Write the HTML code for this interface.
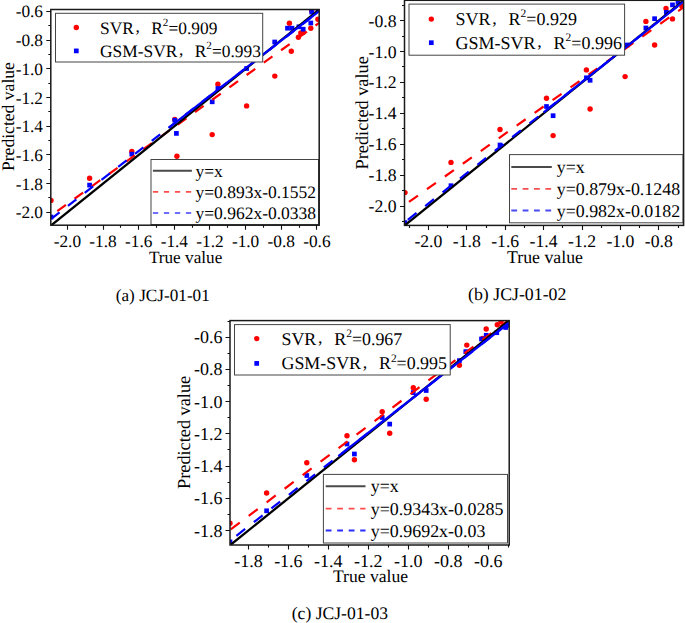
<!DOCTYPE html><html><head><meta charset="utf-8"><style>html,body{margin:0;padding:0;background:#fff;}svg{display:block;}</style></head><body>
<svg width="685" height="623" viewBox="0 0 685 623" font-family='"Liberation Serif", serif' fill="#000" text-rendering="geometricPrecision">
<rect width="685" height="623" fill="#fff"/>
<clipPath id="ca"><rect x="50.8" y="9.5" width="268.4" height="215.7"/></clipPath>
<g clip-path="url(#ca)">
<circle cx="51" cy="200.4" r="2.7" fill="#f00"/>
<circle cx="89.6" cy="178.2" r="2.7" fill="#f00"/>
<circle cx="131.8" cy="151.5" r="2.7" fill="#f00"/>
<circle cx="174.8" cy="119.4" r="2.7" fill="#f00"/>
<circle cx="176.9" cy="156.3" r="2.7" fill="#f00"/>
<circle cx="212.2" cy="134.6" r="2.7" fill="#f00"/>
<circle cx="217.9" cy="84.3" r="2.7" fill="#f00"/>
<circle cx="246.6" cy="105.9" r="2.7" fill="#f00"/>
<circle cx="274.8" cy="76.1" r="2.7" fill="#f00"/>
<circle cx="289.4" cy="23.2" r="2.7" fill="#f00"/>
<circle cx="291.3" cy="51.3" r="2.7" fill="#f00"/>
<circle cx="298.4" cy="37.3" r="2.7" fill="#f00"/>
<circle cx="300.8" cy="33" r="2.7" fill="#f00"/>
<circle cx="303.2" cy="32.5" r="2.7" fill="#f00"/>
<circle cx="310.8" cy="28.2" r="2.7" fill="#f00"/>
<circle cx="317.9" cy="19.2" r="2.7" fill="#f00"/>
<circle cx="311.7" cy="10.7" r="2.7" fill="#f00"/>
<rect x="48.65" y="214.65" width="4.7" height="4.7" fill="#00f"/>
<rect x="87.25" y="182.75" width="4.7" height="4.7" fill="#00f"/>
<rect x="129.45" y="151.85" width="4.7" height="4.7" fill="#00f"/>
<rect x="172.45" y="117.85" width="4.7" height="4.7" fill="#00f"/>
<rect x="174.05" y="131.05" width="4.7" height="4.7" fill="#00f"/>
<rect x="209.85" y="99.45" width="4.7" height="4.7" fill="#00f"/>
<rect x="215.55" y="86.15" width="4.7" height="4.7" fill="#00f"/>
<rect x="244.25" y="66.15" width="4.7" height="4.7" fill="#00f"/>
<rect x="272.35" y="39.65" width="4.7" height="4.7" fill="#00f"/>
<rect x="285.15" y="25.85" width="4.7" height="4.7" fill="#00f"/>
<rect x="289.65" y="25.85" width="4.7" height="4.7" fill="#00f"/>
<rect x="296.55" y="24.45" width="4.7" height="4.7" fill="#00f"/>
<rect x="300.85" y="26.85" width="4.7" height="4.7" fill="#00f"/>
<rect x="308.45" y="20.65" width="4.7" height="4.7" fill="#00f"/>
<rect x="309.35" y="9.75" width="4.7" height="4.7" fill="#00f"/>
<rect x="315.55" y="7.85" width="4.7" height="4.7" fill="#00f"/>
<line x1="50.8" y1="215.8" x2="319.2" y2="22.84" stroke="#f00" stroke-width="2.2" stroke-dasharray="10.6 10.6" stroke-dashoffset="13.2"/>
<line x1="50.8" y1="225.66" x2="319.2" y2="9.59" stroke="#000" stroke-width="2.3"/>
<line x1="50.8" y1="219.1" x2="319.2" y2="11.24" stroke="#00f" stroke-width="2.2" stroke-dasharray="10.6 10.6" stroke-dashoffset="20.7"/>
<line x1="168.97" y1="127.58" x2="319.2" y2="11.24" stroke="#00f" stroke-width="2.2"/>
</g>
<rect x="55.5" y="13.3" width="207.2" height="48.7" fill="#fff" stroke="#444" stroke-width="1"/>
<circle cx="76.3" cy="27.5" r="2.7" fill="#f00"/>
<rect x="73.95" y="48.55" width="4.7" height="4.7" fill="#00f"/>
<text x="100" y="33.5" font-size="17.4">SVR<tspan dx="1.74" dy="-1.6">,</tspan><tspan dx="11.31" dy="1.6">R</tspan><tspan font-size="11.14" dy="-7.48">2</tspan><tspan dy="7.48">=0.909</tspan></text>
<text x="100" y="56.9" font-size="17.4">GSM-SVR<tspan dx="1.74" dy="-1.6">,</tspan><tspan dx="11.31" dy="1.6">R</tspan><tspan font-size="11.14" dy="-7.48">2</tspan><tspan dy="7.48">=0.993</tspan></text>
<rect x="151" y="159.5" width="167.5" height="65" fill="#fff" stroke="#444" stroke-width="1"/>
<line x1="152.9" y1="170.8" x2="191.9" y2="170.8" stroke="#4a4a4a" stroke-width="1.9"/>
<line x1="152.9" y1="191.8" x2="191.9" y2="191.8" stroke="#ff4d4d" stroke-width="1.8" stroke-dasharray="5.3 5.7"/>
<line x1="152.9" y1="213" x2="191.9" y2="213" stroke="#6f6fff" stroke-width="1.8" stroke-dasharray="5.3 5.7"/>
<text x="195.4" y="176.8" font-size="17.5">y=x</text>
<text x="195.4" y="197.8" font-size="17.5">y=0.893x-0.1552</text>
<text x="195.4" y="219" font-size="17.5">y=0.962x-0.0338</text>
<rect x="50.8" y="9.5" width="268.4" height="215.7" fill="none" stroke="#1a1a1a" stroke-width="1.5"/>
<path d="M67.5 225.2v4.5 M103.5 225.2v4.5 M138.5 225.2v4.5 M174.5 225.2v4.5 M209.5 225.2v4.5 M245.5 225.2v4.5 M281.5 225.2v4.5 M316.5 225.2v4.5 M85.5 225.2v2.5 M120.5 225.2v2.5 M156.5 225.2v2.5 M192.5 225.2v2.5 M227.5 225.2v2.5 M263.5 225.2v2.5 M299.5 225.2v2.5 M50.8 212.5h-4.5 M50.8 183.5h-4.5 M50.8 154.5h-4.5 M50.8 126.5h-4.5 M50.8 97.5h-4.5 M50.8 68.5h-4.5 M50.8 40.5h-4.5 M50.8 11.5h-4.5 M50.8 197.5h-2.5 M50.8 169.5h-2.5 M50.8 140.5h-2.5 M50.8 111.5h-2.5 M50.8 83.5h-2.5 M50.8 54.5h-2.5 M50.8 25.5h-2.5" stroke="#111" stroke-width="1.1" fill="none"/>
<text x="67.4" y="246.5" font-size="17.3" text-anchor="middle">-2.0</text>
<text x="103.04" y="246.5" font-size="17.3" text-anchor="middle">-1.8</text>
<text x="138.68" y="246.5" font-size="17.3" text-anchor="middle">-1.6</text>
<text x="174.32" y="246.5" font-size="17.3" text-anchor="middle">-1.4</text>
<text x="209.96" y="246.5" font-size="17.3" text-anchor="middle">-1.2</text>
<text x="245.6" y="246.5" font-size="17.3" text-anchor="middle">-1.0</text>
<text x="281.24" y="246.5" font-size="17.3" text-anchor="middle">-0.8</text>
<text x="316.88" y="246.5" font-size="17.3" text-anchor="middle">-0.6</text>
<text x="43" y="218.3" font-size="17.3" text-anchor="end">-2.0</text>
<text x="43" y="189.61" font-size="17.3" text-anchor="end">-1.8</text>
<text x="43" y="160.92" font-size="17.3" text-anchor="end">-1.6</text>
<text x="43" y="132.22" font-size="17.3" text-anchor="end">-1.4</text>
<text x="43" y="103.53" font-size="17.3" text-anchor="end">-1.2</text>
<text x="43" y="74.84" font-size="17.3" text-anchor="end">-1.0</text>
<text x="43" y="46.15" font-size="17.3" text-anchor="end">-0.8</text>
<text x="43" y="17.46" font-size="17.3" text-anchor="end">-0.6</text>
<text x="185.6" y="263.2" font-size="17.2" text-anchor="middle">True value</text>
<text transform="translate(13.8 116.6) rotate(-90)" font-size="17.6" text-anchor="middle">Predicted value</text>
<text x="162.8" y="300.5" font-size="17.2" text-anchor="middle">(a) JCJ-01-01</text>
<clipPath id="cb"><rect x="404.5" y="0.3" width="279.1" height="225.1"/></clipPath>
<g clip-path="url(#cb)">
<circle cx="405" cy="192.6" r="2.7" fill="#f00"/>
<circle cx="451" cy="162.4" r="2.7" fill="#f00"/>
<circle cx="500" cy="129.5" r="2.7" fill="#f00"/>
<circle cx="546.5" cy="98.2" r="2.7" fill="#f00"/>
<circle cx="553.1" cy="135.6" r="2.7" fill="#f00"/>
<circle cx="586.4" cy="69.9" r="2.7" fill="#f00"/>
<circle cx="590.1" cy="109" r="2.7" fill="#f00"/>
<circle cx="625.1" cy="76.6" r="2.7" fill="#f00"/>
<circle cx="645.9" cy="21.4" r="2.7" fill="#f00"/>
<circle cx="654.6" cy="45" r="2.7" fill="#f00"/>
<circle cx="666" cy="8.4" r="2.7" fill="#f00"/>
<circle cx="672.5" cy="18.9" r="2.7" fill="#f00"/>
<circle cx="682" cy="6.2" r="2.7" fill="#f00"/>
<rect x="402.65" y="220.25" width="4.7" height="4.7" fill="#00f"/>
<rect x="448.65" y="183.35" width="4.7" height="4.7" fill="#00f"/>
<rect x="497.65" y="142.65" width="4.7" height="4.7" fill="#00f"/>
<rect x="544.15" y="104.15" width="4.7" height="4.7" fill="#00f"/>
<rect x="550.75" y="113.35" width="4.7" height="4.7" fill="#00f"/>
<rect x="584.05" y="75.45" width="4.7" height="4.7" fill="#00f"/>
<rect x="587.75" y="77.95" width="4.7" height="4.7" fill="#00f"/>
<rect x="624.85" y="42.65" width="4.7" height="4.7" fill="#00f"/>
<rect x="643.55" y="25.65" width="4.7" height="4.7" fill="#00f"/>
<rect x="652.25" y="16.35" width="4.7" height="4.7" fill="#00f"/>
<rect x="663.95" y="9.95" width="4.7" height="4.7" fill="#00f"/>
<rect x="670.15" y="2.55" width="4.7" height="4.7" fill="#00f"/>
<rect x="675.65" y="-0.05" width="4.7" height="4.7" fill="#00f"/>
<line x1="404.5" y1="205.1" x2="683.6" y2="7.3" stroke="#f00" stroke-width="2.2" stroke-dasharray="11 11" stroke-dashoffset="16.5"/>
<line x1="404.5" y1="225.57" x2="683.6" y2="0.54" stroke="#000" stroke-width="2.3"/>
<line x1="404.5" y1="222.47" x2="683.6" y2="1.49" stroke="#00f" stroke-width="2.2" stroke-dasharray="11.1 11.1" stroke-dashoffset="18"/>
<line x1="543.6" y1="112.34" x2="683.6" y2="1.49" stroke="#00f" stroke-width="2.2"/>
</g>
<rect x="409" y="4.1" width="215.6" height="51.1" fill="#fff" stroke="#444" stroke-width="1"/>
<circle cx="431.3" cy="19.1" r="2.7" fill="#f00"/>
<rect x="428.95" y="40.35" width="4.7" height="4.7" fill="#00f"/>
<text x="455.5" y="25.1" font-size="18.0">SVR<tspan dx="1.8" dy="-1.6">,</tspan><tspan dx="11.7" dy="1.6">R</tspan><tspan font-size="11.52" dy="-7.74">2</tspan><tspan dy="7.74">=0.929</tspan></text>
<text x="455.5" y="48.7" font-size="18.0">GSM-SVR<tspan dx="1.8" dy="-1.6">,</tspan><tspan dx="11.7" dy="1.6">R</tspan><tspan font-size="11.52" dy="-7.74">2</tspan><tspan dy="7.74">=0.996</tspan></text>
<rect x="509.5" y="154.6" width="173.5" height="68.2" fill="#fff" stroke="#444" stroke-width="1"/>
<line x1="511.3" y1="167" x2="551.8" y2="167" stroke="#4a4a4a" stroke-width="1.9"/>
<line x1="511.3" y1="188.8" x2="551.8" y2="188.8" stroke="#f25050" stroke-width="1.8" stroke-dasharray="5.8 5.55"/>
<line x1="511.3" y1="210.5" x2="551.8" y2="210.5" stroke="#4a4af2" stroke-width="1.8" stroke-dasharray="5.8 5.55"/>
<text x="556.7" y="173" font-size="17.9">y=x</text>
<text x="556.7" y="194.8" font-size="17.9">y=0.879x-0.1248</text>
<text x="556.7" y="216.5" font-size="17.9">y=0.982x-0.0182</text>
<rect x="404.5" y="0.3" width="279.1" height="225.1" fill="none" stroke="#1a1a1a" stroke-width="1.5"/>
<path d="M428.5 225.4v4.5 M466.5 225.4v4.5 M505.5 225.4v4.5 M543.5 225.4v4.5 M582.5 225.4v4.5 M620.5 225.4v4.5 M658.5 225.4v4.5 M409.5 225.4v2.5 M447.5 225.4v2.5 M486.5 225.4v2.5 M524.5 225.4v2.5 M562.5 225.4v2.5 M601.5 225.4v2.5 M639.5 225.4v2.5 M678.5 225.4v2.5 M404.5 206.5h-4.5 M404.5 175.5h-4.5 M404.5 144.5h-4.5 M404.5 113.5h-4.5 M404.5 82.5h-4.5 M404.5 51.5h-4.5 M404.5 20.5h-4.5 M404.5 221.5h-2.5 M404.5 190.5h-2.5 M404.5 159.5h-2.5 M404.5 128.5h-2.5 M404.5 97.5h-2.5 M404.5 66.5h-2.5 M404.5 36.5h-2.5 M404.5 5.5h-2.5" stroke="#111" stroke-width="1.1" fill="none"/>
<text x="428.4" y="246.5" font-size="17.7" text-anchor="middle">-2.0</text>
<text x="466.8" y="246.5" font-size="17.7" text-anchor="middle">-1.8</text>
<text x="505.2" y="246.5" font-size="17.7" text-anchor="middle">-1.6</text>
<text x="543.6" y="246.5" font-size="17.7" text-anchor="middle">-1.4</text>
<text x="582" y="246.5" font-size="17.7" text-anchor="middle">-1.2</text>
<text x="620.4" y="246.5" font-size="17.7" text-anchor="middle">-1.0</text>
<text x="658.8" y="246.5" font-size="17.7" text-anchor="middle">-0.8</text>
<text x="396.5" y="212.3" font-size="17.7" text-anchor="end">-2.0</text>
<text x="396.5" y="181.34" font-size="17.7" text-anchor="end">-1.8</text>
<text x="396.5" y="150.38" font-size="17.7" text-anchor="end">-1.6</text>
<text x="396.5" y="119.42" font-size="17.7" text-anchor="end">-1.4</text>
<text x="396.5" y="88.46" font-size="17.7" text-anchor="end">-1.2</text>
<text x="396.5" y="57.5" font-size="17.7" text-anchor="end">-1.0</text>
<text x="396.5" y="26.54" font-size="17.7" text-anchor="end">-0.8</text>
<text x="545" y="262.7" font-size="17.8" text-anchor="middle">True value</text>
<text transform="translate(367.5 112.8) rotate(-90)" font-size="18.3" text-anchor="middle">Predicted value</text>
<text x="517.2" y="300.3" font-size="17.8" text-anchor="middle">(b) JCJ-01-02</text>
<clipPath id="cc"><rect x="230" y="320.6" width="279.2" height="224.4"/></clipPath>
<g clip-path="url(#cc)">
<circle cx="230" cy="523.2" r="2.7" fill="#f00"/>
<circle cx="266.6" cy="493" r="2.7" fill="#f00"/>
<circle cx="306.8" cy="462.7" r="2.7" fill="#f00"/>
<circle cx="347" cy="435.7" r="2.7" fill="#f00"/>
<circle cx="354.4" cy="459.8" r="2.7" fill="#f00"/>
<circle cx="382.2" cy="411.7" r="2.7" fill="#f00"/>
<circle cx="389.7" cy="433.3" r="2.7" fill="#f00"/>
<circle cx="413.3" cy="387.7" r="2.7" fill="#f00"/>
<circle cx="426.2" cy="399.3" r="2.7" fill="#f00"/>
<circle cx="459.4" cy="365.3" r="2.7" fill="#f00"/>
<circle cx="466.8" cy="345.1" r="2.7" fill="#f00"/>
<circle cx="482.6" cy="338.5" r="2.7" fill="#f00"/>
<circle cx="486.2" cy="329" r="2.7" fill="#f00"/>
<circle cx="497.3" cy="324.8" r="2.7" fill="#f00"/>
<circle cx="501" cy="321.7" r="2.7" fill="#f00"/>
<rect x="227.65" y="539.55" width="4.7" height="4.7" fill="#00f"/>
<rect x="264.25" y="508.45" width="4.7" height="4.7" fill="#00f"/>
<rect x="304.45" y="473.15" width="4.7" height="4.7" fill="#00f"/>
<rect x="344.65" y="441.65" width="4.7" height="4.7" fill="#00f"/>
<rect x="352.05" y="451.65" width="4.7" height="4.7" fill="#00f"/>
<rect x="379.85" y="415.15" width="4.7" height="4.7" fill="#00f"/>
<rect x="387.35" y="421.75" width="4.7" height="4.7" fill="#00f"/>
<rect x="410.95" y="390.25" width="4.7" height="4.7" fill="#00f"/>
<rect x="423.85" y="388.15" width="4.7" height="4.7" fill="#00f"/>
<rect x="457.05" y="358.25" width="4.7" height="4.7" fill="#00f"/>
<rect x="463.45" y="349.25" width="4.7" height="4.7" fill="#00f"/>
<rect x="479.15" y="336.65" width="4.7" height="4.7" fill="#00f"/>
<rect x="483.85" y="332.95" width="4.7" height="4.7" fill="#00f"/>
<rect x="494.45" y="330.35" width="4.7" height="4.7" fill="#00f"/>
<rect x="503.35" y="325.15" width="4.7" height="4.7" fill="#00f"/>
<rect x="504.95" y="323.05" width="4.7" height="4.7" fill="#00f"/>
<line x1="230" y1="529.89" x2="509.2" y2="319.67" stroke="#f00" stroke-width="2.2" stroke-dasharray="11.3 11.2" stroke-dashoffset="21.6"/>
<line x1="230" y1="545.33" x2="509.2" y2="320.32" stroke="#000" stroke-width="2.3"/>
<line x1="230" y1="540.77" x2="509.2" y2="322.7" stroke="#00f" stroke-width="2.2" stroke-dasharray="11.1 11.1" stroke-dashoffset="14.1"/>
<line x1="338.36" y1="456.14" x2="509.2" y2="322.7" stroke="#00f" stroke-width="2.2" stroke-dasharray="30 -26" stroke-dashoffset="0"/>
</g>
<rect x="234.5" y="324.6" width="215.7" height="50.4" fill="#fff" stroke="#444" stroke-width="1"/>
<circle cx="256.7" cy="338.6" r="2.7" fill="#f00"/>
<rect x="254.35" y="361.05" width="4.7" height="4.7" fill="#00f"/>
<text x="281.5" y="344.6" font-size="17.9">SVR<tspan dx="1.79" dy="-1.6">,</tspan><tspan dx="11.63" dy="1.6">R</tspan><tspan font-size="11.46" dy="-7.7">2</tspan><tspan dy="7.7">=0.967</tspan></text>
<text x="281.5" y="369.4" font-size="17.9">GSM-SVR<tspan dx="1.79" dy="-1.6">,</tspan><tspan dx="11.63" dy="1.6">R</tspan><tspan font-size="11.46" dy="-7.7">2</tspan><tspan dy="7.7">=0.995</tspan></text>
<rect x="323.4" y="474.4" width="184.1" height="68.6" fill="#fff" stroke="#444" stroke-width="1"/>
<line x1="325.7" y1="486.3" x2="365.5" y2="486.3" stroke="#4a4a4a" stroke-width="1.9"/>
<line x1="325.7" y1="508.6" x2="365.5" y2="508.6" stroke="#ff4d4d" stroke-width="1.8" stroke-dasharray="5.8 5.7"/>
<line x1="325.7" y1="530.5" x2="365.5" y2="530.5" stroke="#2a2aff" stroke-width="1.8" stroke-dasharray="5.8 5.7"/>
<text x="370.7" y="492.3" font-size="17.95">y=x</text>
<text x="370.7" y="514.6" font-size="17.95">y=0.9343x-0.0285</text>
<text x="370.7" y="536.5" font-size="17.95">y=0.9692x-0.03</text>
<rect x="230" y="320.6" width="279.2" height="224.4" fill="none" stroke="#1a1a1a" stroke-width="1.5"/>
<path d="M248.5 545v4.5 M288.5 545v4.5 M328.5 545v4.5 M368.5 545v4.5 M408.5 545v4.5 M448.5 545v4.5 M488.5 545v4.5 M268.5 545v2.5 M308.5 545v2.5 M348.5 545v2.5 M388.5 545v2.5 M428.5 545v2.5 M468.5 545v2.5 M508.5 545v2.5 M230 530.5h-4.5 M230 498.5h-4.5 M230 466.5h-4.5 M230 433.5h-4.5 M230 401.5h-4.5 M230 369.5h-4.5 M230 337.5h-4.5 M230 514.5h-2.5 M230 482.5h-2.5 M230 449.5h-2.5 M230 417.5h-2.5 M230 385.5h-2.5 M230 353.5h-2.5 M230 321.5h-2.5" stroke="#111" stroke-width="1.1" fill="none"/>
<text x="248.4" y="566.5" font-size="18.0" text-anchor="middle">-1.8</text>
<text x="288.38" y="566.5" font-size="18.0" text-anchor="middle">-1.6</text>
<text x="328.36" y="566.5" font-size="18.0" text-anchor="middle">-1.4</text>
<text x="368.34" y="566.5" font-size="18.0" text-anchor="middle">-1.2</text>
<text x="408.32" y="566.5" font-size="18.0" text-anchor="middle">-1.0</text>
<text x="448.3" y="566.5" font-size="18.0" text-anchor="middle">-0.8</text>
<text x="488.28" y="566.5" font-size="18.0" text-anchor="middle">-0.6</text>
<text x="222.5" y="536.5" font-size="18.0" text-anchor="end">-1.8</text>
<text x="222.5" y="504.28" font-size="18.0" text-anchor="end">-1.6</text>
<text x="222.5" y="472.06" font-size="18.0" text-anchor="end">-1.4</text>
<text x="222.5" y="439.84" font-size="18.0" text-anchor="end">-1.2</text>
<text x="222.5" y="407.62" font-size="18.0" text-anchor="end">-1.0</text>
<text x="222.5" y="375.4" font-size="18.0" text-anchor="end">-0.8</text>
<text x="222.5" y="343.18" font-size="18.0" text-anchor="end">-0.6</text>
<text x="370.5" y="581.6" font-size="17.6" text-anchor="middle">True value</text>
<text transform="translate(190 432.4) rotate(-90)" font-size="18.3" text-anchor="middle">Predicted value</text>
<text x="339.9" y="618.6" font-size="17.6" text-anchor="middle">(c) JCJ-01-03</text>
</svg></body></html>
